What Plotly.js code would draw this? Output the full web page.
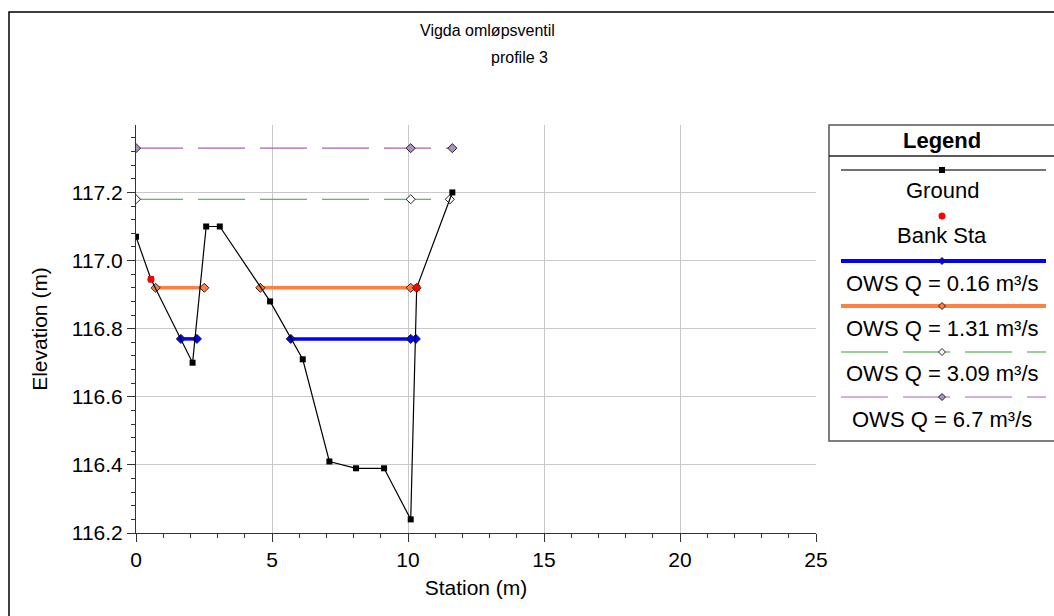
<!DOCTYPE html>
<html>
<head>
<meta charset="utf-8">
<script src="https://cdn.plot.ly/plotly-3.0.1.min.js"></script>
<style>html,body{margin:0;padding:0;background:#fff;}#chart{width:1054px;height:616px;}</style>
</head>
<body>
<div id="chart"></div>
<script>
// ---- data ----
const groundStation = [0, 0.55, 2.08, 2.58, 3.08, 4.93, 6.13, 7.11, 8.09, 9.12, 10.10, 10.32, 11.63];
const groundElev    = [117.07, 116.945, 116.70, 117.10, 117.10, 116.88, 116.71, 116.41, 116.39, 116.39, 116.24, 116.92, 117.20];

const bankStation = [0.55, 10.32];
const bankElev    = [116.945, 116.92];

const ws016Station = [1.65, 2.24, null, 5.69, 10.10, 10.29];
const ws016Elev    = [116.77, 116.77, null, 116.77, 116.77, 116.77];

const ws131Station = [0.72, 2.51, null, 4.57, 10.10, 10.32];
const ws131Elev    = [116.92, 116.92, null, 116.92, 116.92, 116.92];

const ws309Station = [0, 10.10, 11.54];
const ws309Elev    = [117.18, 117.18, 117.18];

const ws67Station = [0, 10.10, 11.63];
const ws67Elev    = [117.33, 117.33, 117.33];

const xTicks = [0, 5, 10, 15, 20, 25];
const yTicks = [116.2, 116.4, 116.6, 116.8, 117.0, 117.2];

const legendLabels = ['Ground', 'Bank Sta', 'OWS Q = 0.16 m³/s', 'OWS Q = 1.31 m³/s', 'OWS Q = 3.09 m³/s', 'OWS Q = 6.7 m³/s'];

// ---- styles ----
const C_BLUE = '#0000ff', C_ORANGE = '#ff8040', C_GREEN = '#34a034', C_PURPLE = '#a860b8';
const FONT = 'Liberation Sans, Arial, sans-serif';

// ---- layout geometry (pixels) ----
const W = 1054, H = 616, L = 136, R = 238, T = 125, B = 83;
const PW = W - L - R, PH = H - T - B;
const px = x => (x - L) / PW;
const py = y => (H - B - y) / PH;

const traces = [
  {x: ws67Station, y: ws67Elev, mode: 'lines+markers', line: {color: C_PURPLE, width: 1.2, dash: '47px,15px'},
   marker: {symbol: 'diamond', size: 7, color: '#b090c0', line: {color: '#222', width: 1}}, connectgaps: false},
  {x: ws309Station, y: ws309Elev, mode: 'lines+markers', line: {color: C_GREEN, width: 1.2, dash: '47px,15px'},
   marker: {symbol: 'diamond', size: 7, color: '#ffffff', line: {color: '#222', width: 1}}},
  {x: ws131Station, y: ws131Elev, mode: 'lines+markers', line: {color: C_ORANGE, width: 3.5},
   marker: {symbol: 'diamond', size: 7, color: C_ORANGE, line: {color: '#222', width: 1}}, connectgaps: false},
  {x: ws016Station, y: ws016Elev, mode: 'lines+markers', line: {color: C_BLUE, width: 3.5},
   marker: {symbol: 'diamond', size: 7, color: C_BLUE, line: {color: '#222', width: 1}}, connectgaps: false},
  {x: groundStation, y: groundElev, mode: 'lines+markers', line: {color: '#000', width: 1.2},
   marker: {symbol: 'square', size: 6, color: '#000'}},
  {x: bankStation, y: bankElev, mode: 'markers', marker: {symbol: 'circle', size: 7, color: '#ff0000'}}
];

// ---- legend drawing ----
const shapes = [];
const annotations = [];
// outer frame
shapes.push({type: 'rect', xref: 'paper', yref: 'paper', x0: px(9), x1: px(1070), y0: py(12), y1: py(640),
  line: {color: '#000', width: 1.5}, layer: 'below'});
// legend box
const LX0 = 829, LX1 = 1070, LY0 = 125, LY1 = 441, LCX = 942;
shapes.push({type: 'rect', xref: 'paper', yref: 'paper', x0: px(LX0), x1: px(LX1), y0: py(LY0), y1: py(LY1),
  line: {color: '#555', width: 1.5}, fillcolor: '#fff'});
shapes.push({type: 'line', xref: 'paper', yref: 'paper', x0: px(LX0), x1: px(LX1), y0: py(156), y1: py(156),
  line: {color: '#222', width: 1.5}});
annotations.push({xref: 'paper', yref: 'paper', x: px(LCX), y: py(140), text: '<b>Legend</b>', showarrow: false,
  xanchor: 'center', yanchor: 'middle', font: {family: FONT, size: 22, color: '#000'}});

const sampleY = [170, 216, 261, 306, 352, 397];
const textY = [190, 235, 283, 328, 373, 419];
const sampleLine = [
  {color: '#444', width: 1.5, dash: 'solid'}, null,
  {color: C_BLUE, width: 4, dash: 'solid'}, {color: C_ORANGE, width: 4, dash: 'solid'},
  {color: C_GREEN, width: 1.2, dash: '47px,15px'}, {color: C_PURPLE, width: 1.2, dash: '47px,15px'}
];
function diamond(cx, cy, r, fill) {
  const p = `M ${px(cx - r)},${py(cy)} L ${px(cx)},${py(cy - r)} L ${px(cx + r)},${py(cy)} L ${px(cx)},${py(cy + r)} Z`;
  shapes.push({type: 'path', xref: 'paper', yref: 'paper', path: p, fillcolor: fill, line: {color: '#222', width: 1}});
}
legendLabels.forEach((lab, i) => {
  const sy = sampleY[i];
  if (sampleLine[i]) {
    shapes.push({type: 'line', xref: 'paper', yref: 'paper', x0: px(841), x1: px(1046), y0: py(sy), y1: py(sy),
      line: sampleLine[i]});
  }
  if (i === 0) {
    shapes.push({type: 'rect', xref: 'paper', yref: 'paper', x0: px(LCX - 3), x1: px(LCX + 3), y0: py(sy - 3), y1: py(sy + 3),
      fillcolor: '#000', line: {width: 0}});
  } else if (i === 1) {
    shapes.push({type: 'circle', xref: 'paper', yref: 'paper', x0: px(LCX - 3.5), x1: px(LCX + 3.5), y0: py(sy - 3.5), y1: py(sy + 3.5),
      fillcolor: '#ff0000', line: {width: 0}});
  } else {
    const fills = [null, null, C_BLUE, C_ORANGE, '#ffffff', '#b090c0'];
    diamond(LCX, sy, 3.5, fills[i]);
  }
  annotations.push({xref: 'paper', yref: 'paper', x: px(LCX), y: py(textY[i]), text: lab, showarrow: false,
    xanchor: 'center', yanchor: 'middle', font: {family: FONT, size: 22, color: '#000'}});
});

// titles
annotations.push({xref: 'paper', yref: 'paper', x: px(487), y: py(31), text: 'Vigda omløpsventil', showarrow: false,
  xanchor: 'center', yanchor: 'middle', font: {family: FONT, size: 16, color: '#000'}});
annotations.push({xref: 'paper', yref: 'paper', x: px(519), y: py(58), text: 'profile 3', showarrow: false,
  xanchor: 'center', yanchor: 'middle', font: {family: FONT, size: 16, color: '#000'}});

const layout = {
  width: W, height: H,
  margin: {l: L, r: R, t: T, b: B, pad: 0},
  paper_bgcolor: '#fff', plot_bgcolor: '#fff',
  showlegend: false,
  xaxis: {
    range: [0, 25], tickvals: xTicks, ticktext: xTicks.map(String),
    showgrid: true, gridcolor: '#c8c8c8', gridwidth: 1, zeroline: false,
    showline: true, linecolor: '#333', linewidth: 1,
    ticks: 'outside', ticklen: 8, tickcolor: '#333', tickwidth: 1,
    minor: {dtick: 1, ticks: 'outside', ticklen: 4, tickcolor: '#333', showgrid: false},
    tickfont: {family: FONT, size: 21, color: '#000'},
    title: {text: 'Station (m)', font: {family: FONT, size: 21, color: '#000'}, standoff: 10},
    automargin: false, fixedrange: true
  },
  yaxis: {
    range: [116.2, 117.398], tickvals: yTicks, ticktext: yTicks.map(v => v.toFixed(1)),
    showgrid: true, gridcolor: '#c8c8c8', gridwidth: 1, zeroline: false,
    showline: true, linecolor: '#333', linewidth: 1,
    ticks: 'outside', ticklen: 8, tickcolor: '#333', tickwidth: 1,
    minor: {dtick: 0.04, tick0: 116.2, ticks: 'outside', ticklen: 4, tickcolor: '#333', showgrid: false},
    tickfont: {family: FONT, size: 21, color: '#000'},
    title: {text: 'Elevation (m)', font: {family: FONT, size: 21, color: '#000'}, standoff: 18},
    automargin: false, fixedrange: true
  },
  shapes: shapes,
  annotations: annotations
};

Plotly.newPlot('chart', traces, layout, {displayModeBar: false, staticPlot: true});
</script>
</body>
</html>
